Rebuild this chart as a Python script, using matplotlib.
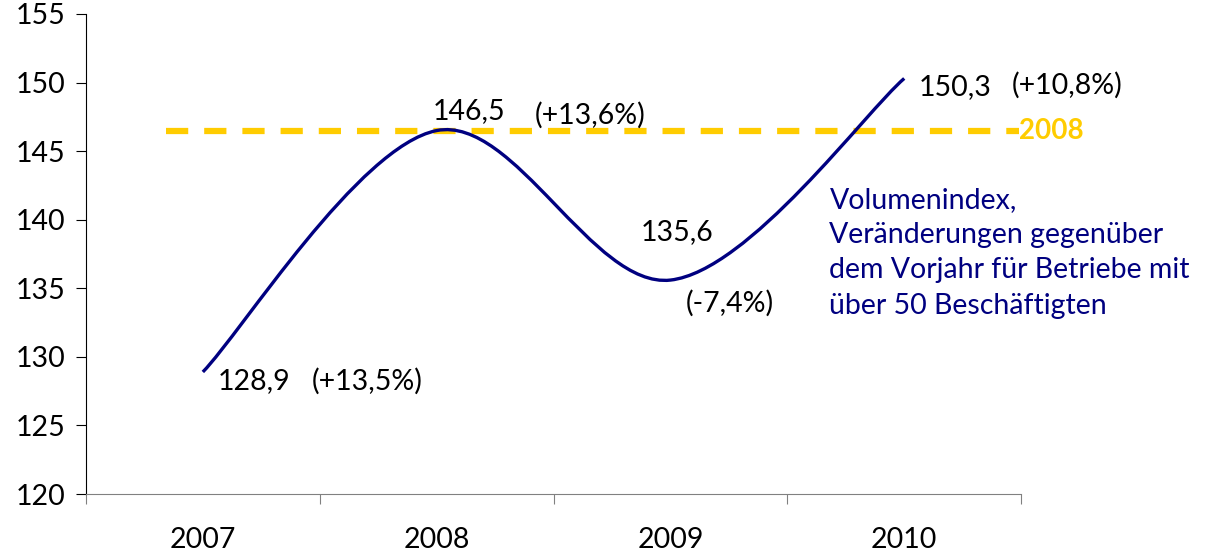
import matplotlib.pyplot as plt
from matplotlib.path import Path
from matplotlib.patches import PathPatch

plt.rcParams['font.family'] = ['Lato', 'DejaVu Sans']
plt.rcParams['lines.scale_dashes'] = False

years = ['2007', '2008', '2009', '2010']
index_values = [128.9, 146.5, 135.6, 150.3]
value_labels = ['128,9', '146,5', '135,6', '150,3']
change_labels = ['(+13,5%)', '(+13,6%)', '(-7,4%)', '(+10,8%)']
ref_level = 146.5
ref_label = '2008'
note = 'Volumenindex,\nVeränderungen gegenüber\ndem Vorjahr für Betriebe mit\nüber 50 Beschäftigten'

fig = plt.figure(figsize=(12.09, 5.51), dpi=100)
ax = fig.add_axes([0.0711, 0.1034, 0.7735, 0.8712])

# smoothed line like Excel (Catmull-Rom as Bezier segments)
xs = list(range(len(index_values)))
pts = list(zip(xs, index_values))
verts = [pts[0]]
codes = [Path.MOVETO]
for i in range(len(pts) - 1):
    p0 = pts[i - 1] if i > 0 else pts[i]
    p1 = pts[i]
    p2 = pts[i + 1]
    p3 = pts[i + 2] if i + 2 < len(pts) else pts[i + 1]
    c1 = (p1[0] + (p2[0] - p0[0]) / 6, p1[1] + (p2[1] - p0[1]) / 6)
    c2 = (p2[0] - (p3[0] - p1[0]) / 6, p2[1] - (p3[1] - p1[1]) / 6)
    verts += [c1, c2, p2]
    codes += [Path.CURVE4] * 3
ax.add_patch(PathPatch(Path(verts, codes), fill=False, edgecolor='#000080', lw=2.4, zorder=3))

ax.plot([-0.158, 3.49], [ref_level, ref_level], color='#FFCC00', lw=4.5,
        dashes=(16, 11.5), zorder=2)
ax.text(3.49, ref_level, ref_label, color='#FFCC00', fontsize=20, fontweight='bold',
        va='center', ha='left')

fs = 20.5
val_pos = [(0.064, 128.25), (0.983, 147.9), (1.872, 139.1), (3.064, 149.7)]
chg_pos = [(0.466, 128.25), (1.419, 147.65), (2.064, 133.9), (3.46, 149.8)]
for (x, y), s in zip(val_pos, value_labels):
    ax.text(x, y, s, fontsize=fs, va='center', ha='left')
for (x, y), s in zip(chg_pos, change_labels):
    ax.text(x, y, s, fontsize=fs, va='center', ha='left')

ax.text(2.68, 142.4, note, color='#000080', fontsize=20.5, va='top', ha='left',
        linespacing=1.44)

ax.set_xlim(-0.5, 3.5)
ax.set_ylim(120, 155)
ax.set_yticks(range(120, 156, 5))
ax.set_xticks([-0.5, 0.5, 1.5, 2.5, 3.5])
ax.set_xticklabels([])
ax.set_xticks(xs, minor=True)
ax.set_xticklabels(years, minor=True)
ax.tick_params(axis='x', which='minor', length=0, pad=24, labelsize=fs)
ax.tick_params(axis='x', which='major', length=7, color='#808080')
ax.tick_params(axis='y', length=7, labelsize=fs, pad=8)
ax.spines['top'].set_visible(False)
ax.spines['right'].set_visible(False)
ax.spines['bottom'].set_color('#808080')

fig.savefig('out.png', dpi=100)
